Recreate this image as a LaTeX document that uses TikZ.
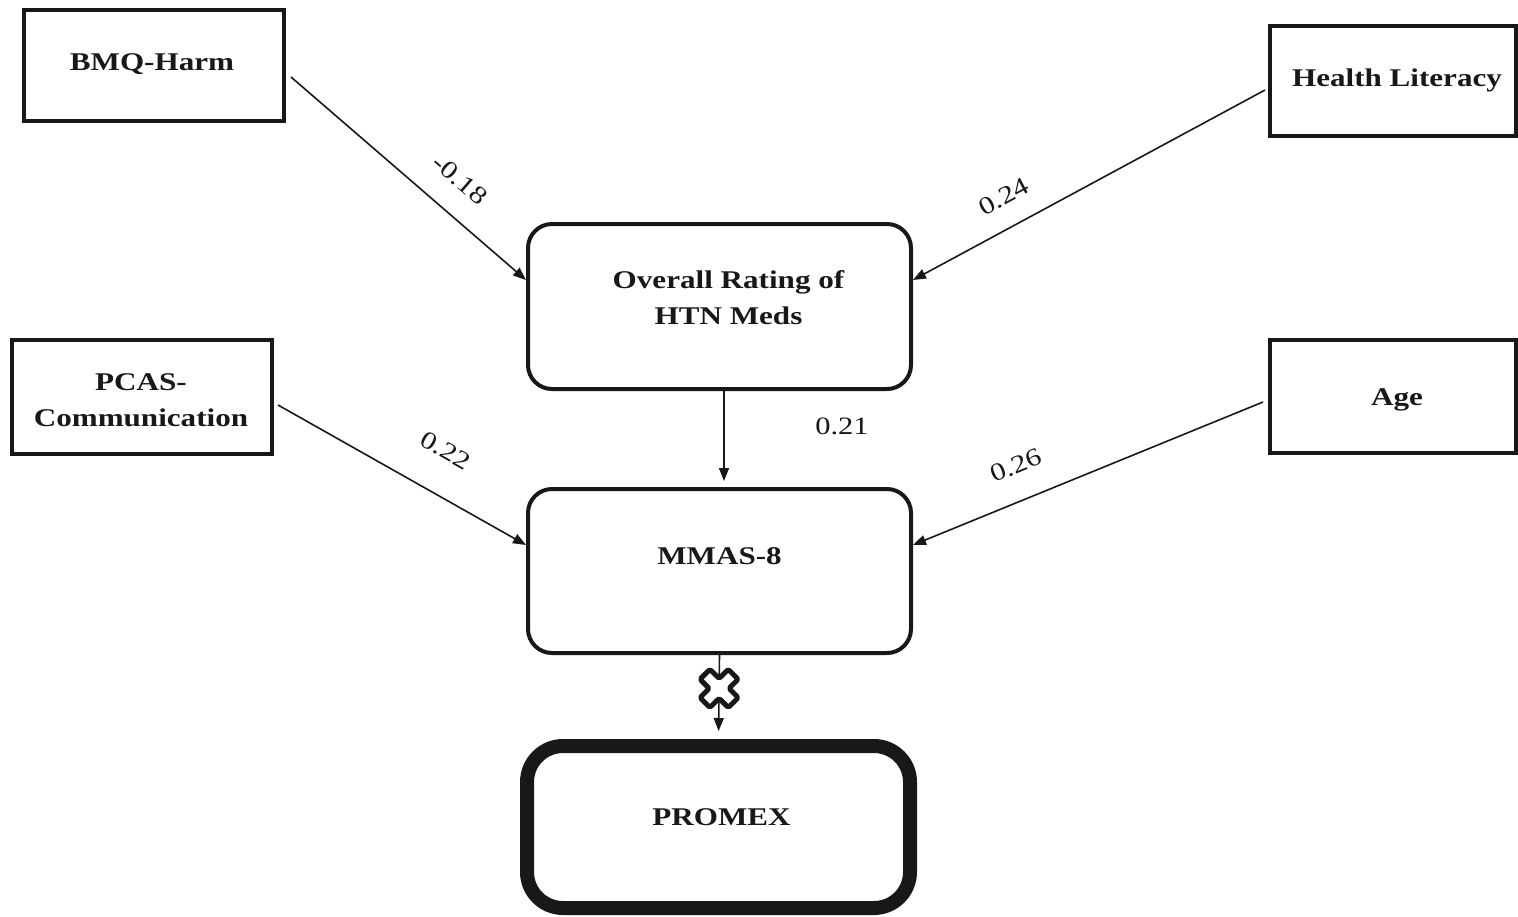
\documentclass[tikz,border=0pt]{standalone}
\usepackage{fontspec}
\setmainfont{Liberation Serif}[FakeStretch=1.22]
\usetikzlibrary{arrows.meta,calc}
\definecolor{ink}{RGB}{24,24,24}

\tikzset{
  sqbox/.style={draw=ink, line width=4, inner sep=0},
  rbox/.style={draw=ink, line width=4, rounded corners=24, inner sep=0},
  outbox/.style={draw=ink, line width=14, rounded corners=36, inner sep=0},
  lbl/.style={font=\fontsize{25.5}{36}\selectfont\bfseries, text=ink, inner sep=0, align=center},
  coef/.style={font=\fontsize{25}{30}\selectfont, text=ink, inner sep=0},
  link/.style={draw=ink, line width=1.6, -{Triangle[length=13,width=10]}},
  linkrev/.style={draw=ink, line width=1.6, {Triangle[length=13,width=10]}-},
}

\begin{document}
\begin{tikzpicture}[x=1pt, y=-1pt]
\useasboundingbox (0,0) rectangle (1518,916);

% predictor boxes
\node[sqbox, minimum width=260, minimum height=111] (bmq)    at (154,65.5)  {};
\node[sqbox, minimum width=246, minimum height=110] (health) at (1393,81)   {};
\node[sqbox, minimum width=260, minimum height=114] (pcas)   at (142,397)   {};
\node[sqbox, minimum width=246, minimum height=113] (age)    at (1393,396.5) {};

% mediators and outcome
\node[rbox,   minimum width=383, minimum height=165] (rating) at (719.5,306.5) {};
\node[rbox,   minimum width=383, minimum height=164] (mmas)   at (719.5,571)   {};
\node[outbox, minimum width=383, minimum height=162] (promex) at (718.5,827)   {};

% box captions
\node[lbl] (bmq-t)    at ($(bmq)+(-2,-1)$)     {BMQ-Harm};
\node[lbl] (health-t) at ($(health)+(4,-1)$)   {Health Literacy};
\node[lbl] (pcas-t)   at ($(pcas)+(-1,3)$)     {PCAS-\\Communication};
\node[lbl] (age-t)    at ($(age)+(4,3)$)       {Age};
\node[lbl] (rating-t) at ($(rating)+(9,-9)$)   {Overall Rating of\\HTN Meds};
\node[lbl] (mmas-t)   at ($(mmas)+(0,-15)$)    {MMAS-8};
\node[lbl] (promex-t) at ($(promex)+(3,-10)$)  {PROMEX};

% paths with coefficients
\draw[link] ([xshift=5,yshift=-11.5]bmq.east) -- ([yshift=26.5]rating.west)
  node[coef, pos=0.628, sloped, above=23.5] (c1) {-0.18};
\draw[linkrev] ([yshift=26.5]rating.east) -- ([xshift=-3,yshift=-9]health.west)
  node[coef, pos=0.299, sloped, above=21] (c2) {0.24};
\draw[link] ([xshift=4,yshift=-8]pcas.east) -- ([yshift=26]mmas.west)
  node[coef, pos=0.59, sloped, above=33.5] (c3) {0.22};
\draw[linkrev] ([yshift=26]mmas.east) -- ([xshift=-5,yshift=-5.5]age.west)
  node[coef, pos=0.332, sloped, above=25.5] (c4) {0.26};
\draw[link, shorten >=6] ([xshift=4.5]rating.south) -- ([xshift=4.5]mmas.north)
  node[coef, pos=0.37, right=90.5] (c5) {0.21};

% blocked path to the outcome
\draw[link, shorten >=8] (mmas.south) -- (promex.north);
\path (mmas.south) -- (promex.north) coordinate[pos=0.398] (xmark);
\draw[ink, line width=5, fill=white, line join=round, rounded corners=1.5,
      shift={(xmark)}, rotate=45]
  (-7,-20) -- (7,-20) -- (7,-7) -- (20,-7) -- (20,7) -- (7,7) --
  (7,20) -- (-7,20) -- (-7,7) -- (-20,7) -- (-20,-7) -- (-7,-7) -- cycle;
\end{tikzpicture}
\end{document}
